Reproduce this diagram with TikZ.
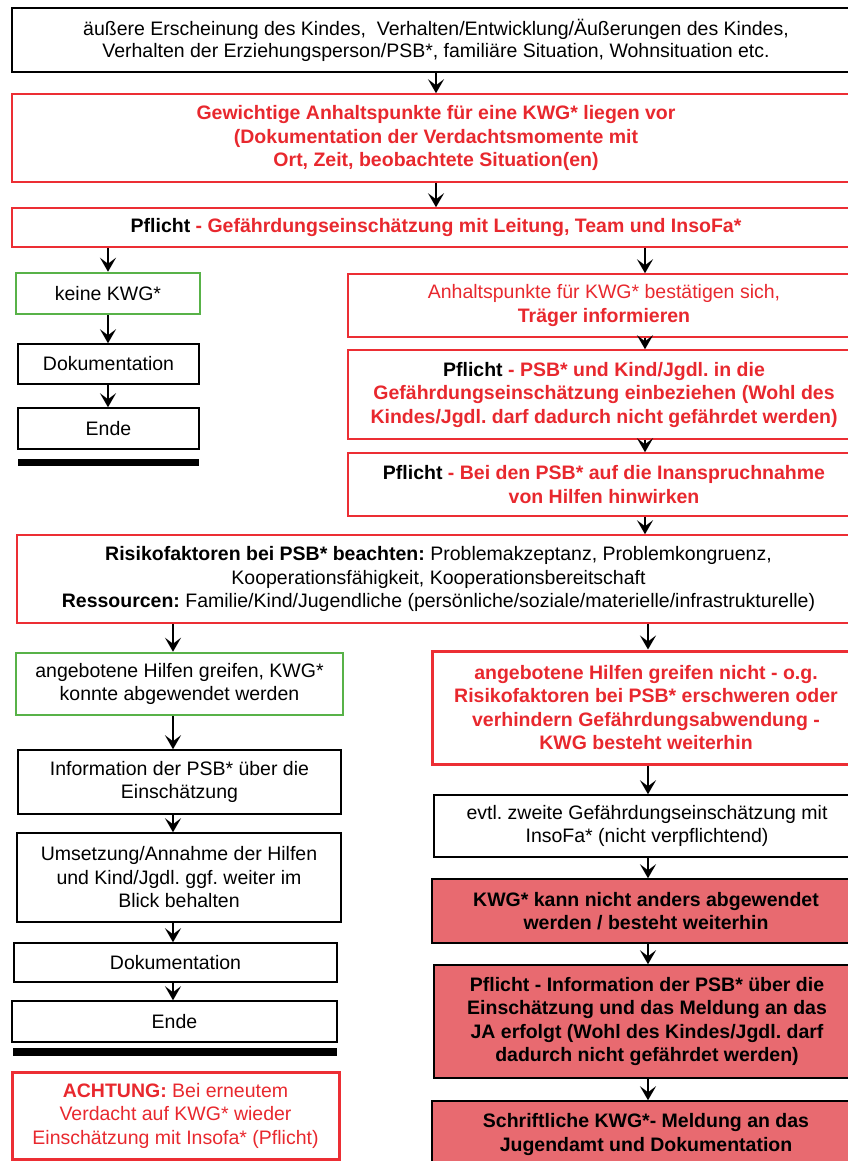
\documentclass[tikz,border=0pt]{standalone}
\usepackage{fontspec}
\setmainfont{Liberation Sans}
\usetikzlibrary{arrows.meta}
\frenchspacing

\definecolor{redline}{RGB}{236,46,52}
\definecolor{redtext}{RGB}{232,40,46}
\definecolor{greenline}{RGB}{88,178,72}
\definecolor{salmon}{RGB}{232,106,112}

\newcommand{\boxfont}{\fontsize{19.5}{23.5}\selectfont}

\tikzset{
  box/.style={draw=black, line width=1.5pt, align=center, inner sep=0pt, font=\boxfont},
  redbox/.style={box, draw=redline, text=redtext, font=\boxfont\bfseries},
  thickred/.style={redbox, line width=3pt},
  greenbox/.style={box, draw=greenline, line width=2.5pt},
  fillbox/.style={box, fill=salmon, font=\boxfont\bfseries},
  arr/.style={line width=2.5pt, -{Stealth[length=14pt,width=16pt,inset=6pt]}}
}

\begin{document}
\begin{tikzpicture}[x=1pt,y=-1pt]
                \useasboundingbox (0,0) rectangle (848,1161);
                \clip (0,0) rectangle (848,1161);

                % Columns for the arrows
                \coordinate (colM) at (436,0);
                \coordinate (colA) at (108,0);
                \coordinate (colB) at (645,0);
                \coordinate (colC) at (173,0);
                \coordinate (colD) at (648,0);

                % Top boxes
                \node[box, minimum width=848, minimum height=64, font=\fontsize{19.5}{22}\selectfont] (obs) at (436,40)
                    {äußere Erscheinung des Kindes,~ Verhalten/Entwicklung/Äußerungen des Kindes,\\
                     Verhalten der Erziehungsperson/PSB*, familiäre Situation, Wohnsituation etc.};
                \node[redbox, minimum width=848, minimum height=88] (hints) at (436,138)
                    {Gewichtige Anhaltspunkte für eine KWG* liegen vor\\
                     (Dokumentation der Verdachtsmomente mit\\
                     Ort, Zeit, beobachtete Situation(en)};
                \node[redbox, minimum width=848, minimum height=39] (assess) at (436,227.5)
                    {\textcolor{black}{Pflicht} - Gefährdungseinschätzung mit Leitung, Team und InsoFa*};

                % Left branch
                \node[greenbox, minimum width=184, minimum height=41] (nokwg) at (108,293.5) {keine KWG*};
                \node[box, minimum width=181, minimum height=40] (docA) at (108.5,364) {Dokumentation};
                \node[box, minimum width=181, minimum height=41] (endA) at (108.5,428.5) {Ende};
                \fill (18,459) rectangle (199,466);

                % Right branch
                \node[redbox, minimum width=512, minimum height=63] (confirm) at (604,305.5)
                    {{\mdseries Anhaltspunkte für KWG* bestätigen sich,}\\ Träger informieren};
                \node[redbox, minimum width=512, minimum height=89] (involve) at (604,394.5)
                    {\textcolor{black}{Pflicht} - PSB* und Kind/Jgdl. in die\\
                     Gefährdungseinschätzung einbeziehen (Wohl des\\
                     Kindes/Jgdl. darf dadurch nicht gefährdet werden)};
                \node[redbox, minimum width=512, minimum height=63] (support) at (604,484.5)
                    {\textcolor{black}{Pflicht} - Bei den PSB* auf die Inanspruchnahme\\ von Hilfen hinwirken};

                % Risk factors
                \node[box, draw=redline, minimum width=843, minimum height=88] (risk) at (438.5,579)
                    {\textbf{Risikofaktoren bei PSB* beachten:} Problemakzeptanz, Problemkongruenz,\\
                     Kooperationsfähigkeit, Kooperationsbereitschaft\\
                     \textbf{Ressourcen:} Familie/Kind/Jugendliche (persönliche/soziale/materielle/infrastrukturelle)};

                % Help works
                \node[greenbox, minimum width=327, minimum height=62] (helpok) at (179.5,684)
                    {angebotene Hilfen greifen, KWG*\\ konnte abgewendet werden};
                \node[box, minimum width=323, minimum height=64] (inform) at (179.5,782)
                    {Information der PSB* über die\\ Einschätzung};
                \node[box, minimum width=324, minimum height=89] (apply) at (179,877.5)
                    {Umsetzung/Annahme der Hilfen\\ und Kind/Jgdl. ggf. weiter im\\ Blick behalten};
                \node[box, minimum width=323, minimum height=39] (docB) at (175.5,962.5) {Dokumentation};
                \node[box, minimum width=325, minimum height=41] (endB) at (174.5,1021.5) {Ende};
                \fill (13,1048) rectangle (337,1056);
                \node[thickred, minimum width=327, minimum height=87, font=\boxfont] (warn) at (175.5,1115.5)
                    {\textbf{ACHTUNG:} Bei erneutem\\ Verdacht auf KWG* wieder\\ Einschätzung mit Insofa* (Pflicht)};

                % Help fails
                \node[thickred, minimum width=428, minimum height=113] (helpfail) at (646,707.5)
                    {angebotene Hilfen greifen nicht - o.g.\\
                     Risikofaktoren bei PSB* erschweren oder\\
                     verhindern Gefährdungsabwendung -\\
                     KWG besteht weiterhin};
                \node[box, minimum width=426, minimum height=62] (second) at (647,826)
                    {evtl. zweite Gefährdungseinschätzung mit\\ InsoFa* (nicht verpflichtend)};
                \node[fillbox, minimum width=428, minimum height=64] (persist) at (646,911)
                    {KWG* kann nicht anders abgewendet\\ werden / besteht weiterhin};
                \node[fillbox, minimum width=426, minimum height=113] (notify) at (647,1021.5)
                    {Pflicht - Information der PSB* über die\\
                     Einschätzung und das Meldung an das\\
                     JA erfolgt (Wohl des Kindes/Jgdl. darf\\
                     dadurch nicht gefährdet werden)};
                \node[fillbox, minimum width=428, minimum height=67] (report) at (646,1134.5)
                    {Schriftliche KWG*- Meldung an das\\ Jugendamt und Dokumentation};

                % Arrows
                \draw[arr] (obs.south -| colM) -- (hints.north -| colM);
                \draw[arr] (hints.south -| colM) -- (assess.north -| colM);
                \draw[arr] (assess.south -| colA) -- (nokwg.north -| colA);
                \draw[arr] (nokwg.south -| colA) -- (docA.north -| colA);
                \draw[arr] (docA.south -| colA) -- (endA.north -| colA);
                \draw[arr] (assess.south -| colB) -- (confirm.north -| colB);
                \draw[arr] (confirm.south -| colB) -- (involve.north -| colB);
                \draw[arr] (involve.south -| colB) -- (support.north -| colB);
                \draw[arr] (support.south -| colB) -- (risk.north -| colB);
                \draw[arr] (risk.south -| colC) -- (helpok.north -| colC);
                \draw[arr] (helpok.south -| colC) -- (inform.north -| colC);
                \draw[arr] (inform.south -| colC) -- (apply.north -| colC);
                \draw[arr] (apply.south -| colC) -- (docB.north -| colC);
                \draw[arr] (docB.south -| colC) -- (endB.north -| colC);
                \draw[arr] (risk.south -| colD) -- (helpfail.north -| colD);
                \draw[arr] (helpfail.south -| colD) -- (second.north -| colD);
                \draw[arr] (second.south -| colD) -- (persist.north -| colD);
                \draw[arr] (persist.south -| colD) -- (notify.north -| colD);
                \draw[arr] (notify.south -| colD) -- (report.north -| colD);
\end{tikzpicture}
\end{document}
